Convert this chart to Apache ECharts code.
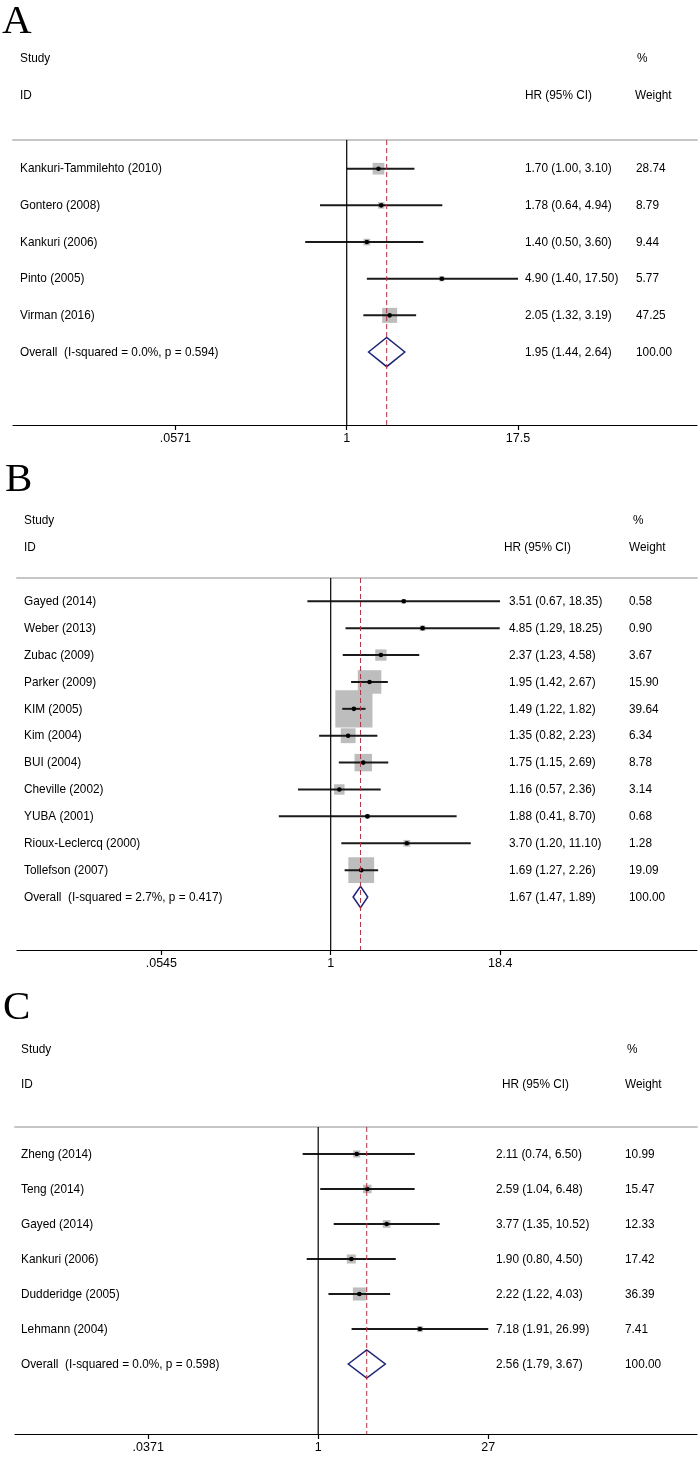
<!DOCTYPE html>
<html>
<head>
<meta charset="utf-8">
<script src="https://cdn.jsdelivr.net/npm/echarts@6/dist/echarts.min.js"></script>
<style>html,body{margin:0;padding:0;background:#fff}#c{width:700px;height:1459px}</style>
</head>
<body>
<div id="c"></div>
<script>
// ---------- Panel A data ----------
const studiesA = ["Kankuri-Tammilehto (2010)", "Gontero (2008)", "Kankuri (2006)", "Pinto (2005)", "Virman (2016)"];
const hrA = [1.70, 1.78, 1.40, 4.90, 2.05];
const loA = [1.00, 0.64, 0.50, 1.40, 1.32];
const hiA = [3.10, 4.94, 3.60, 17.50, 3.19];
const weightA = [28.74, 8.79, 9.44, 5.77, 47.25];
const overallA = [1.95, 1.44, 2.64];
const hetA = ["0.0%", "0.594"];
const tickValsA = [0.0571, 1, 17.5];
const tickLabelsA = [".0571", "1", "17.5"];

// ---------- Panel B data ----------
const studiesB = ["Gayed (2014)", "Weber (2013)", "Zubac (2009)", "Parker (2009)", "KIM (2005)", "Kim (2004)", "BUI (2004)", "Cheville (2002)", "YUBA (2001)", "Rioux-Leclercq (2000)", "Tollefson (2007)"];
const hrB = [3.51, 4.85, 2.37, 1.95, 1.49, 1.35, 1.75, 1.16, 1.88, 3.70, 1.69];
const loB = [0.67, 1.29, 1.23, 1.42, 1.22, 0.82, 1.15, 0.57, 0.41, 1.20, 1.27];
const hiB = [18.35, 18.25, 4.58, 2.67, 1.82, 2.23, 2.69, 2.36, 8.70, 11.10, 2.26];
const weightB = [0.58, 0.90, 3.67, 15.90, 39.64, 6.34, 8.78, 3.14, 0.68, 1.28, 19.09];
const overallB = [1.67, 1.47, 1.89];
const hetB = ["2.7%", "0.417"];
const tickValsB = [0.0545, 1, 18.4];
const tickLabelsB = [".0545", "1", "18.4"];

// ---------- Panel C data ----------
const studiesC = ["Zheng (2014)", "Teng (2014)", "Gayed (2014)", "Kankuri (2006)", "Dudderidge (2005)", "Lehmann (2004)"];
const hrC = [2.11, 2.59, 3.77, 1.90, 2.22, 7.18];
const loC = [0.74, 1.04, 1.35, 0.80, 1.22, 1.91];
const hiC = [6.50, 6.48, 10.52, 4.50, 4.03, 26.99];
const weightC = [10.99, 15.47, 12.33, 17.42, 36.39, 7.41];
const overallC = [2.56, 1.79, 3.67];
const hetC = ["0.0%", "0.598"];
const tickValsC = [0.0371, 1, 27];
const tickLabelsC = [".0371", "1", "27"];

// ---------- layout (positions / styles, not data) ----------
const H = 1459;
const panels = [
  { label: "A", labelX: 2, labelTop: 2,
    studies: studiesA, hr: hrA, lo: loA, hi: hiA, w: weightA, overall: overallA, het: hetA, ticks: tickValsA, tickLabels: tickLabelsA,
    left: 13, right: 3, top: 140, bottom: H - 425, xmin: -5.576, xmax: 5.853, ymin: -0.783, ymax: 6.99,
    nameX: 20, hrX: 525, wX: 636, hdrHrX: 525, pctX: 637, hdrWX: 635, boxK: 2.18 },
  { label: "B", labelX: 5, labelTop: 460,
    studies: studiesB, hr: hrB, lo: loB, hi: hiB, w: weightB, overall: overallB, het: hetB, ticks: tickValsB, tickLabels: tickLabelsB,
    left: 17, right: 3, top: 578, bottom: H - 950, xmin: -5.39, xmax: 6.294, ymin: -0.866, ymax: 12.97,
    nameX: 24, hrX: 509, wX: 629, hdrHrX: 504, pctX: 633, hdrWX: 629, boxK: 5.9 },
  { label: "C", labelX: 3, labelTop: 988,
    studies: studiesC, hr: hrC, lo: loC, hi: hiC, w: weightC, overall: overallC, het: hetC, ticks: tickValsC, tickLabels: tickLabelsC,
    left: 15, right: 3, top: 1127, bottom: H - 1434, xmin: -5.876, xmax: 7.341, ymin: -0.771, ymax: 8.0,
    nameX: 21, hrX: 496, wX: 625, hdrHrX: 502, pctX: 627, hdrWX: 625, boxK: 2.16 }
];

const FONT = '12px "Liberation Sans", Arial, sans-serif';
const TXT = '#000';
const f2 = v => v.toFixed(2);

const grids = [], xAxes = [], yAxes = [], series = [], graphics = [];

panels.forEach((p, pi) => {
  grids.push({ left: p.left, right: p.right, top: p.top, bottom: p.bottom });
  const tickLn = p.ticks.map(v => Math.log(v));
  // bottom axis
  xAxes.push({
    gridIndex: pi, type: 'value', position: 'bottom', min: p.xmin, max: p.xmax,
    axisLine: { show: true, onZero: false, lineStyle: { color: '#000', width: 1.2 } },
    axisTick: { show: true, customValues: tickLn, length: 5, lineStyle: { color: '#000', width: 1.2 } },
    axisLabel: { show: true, customValues: tickLn, margin: 7, color: '#000', fontSize: 12.5, fontFamily: '"Liberation Sans", Arial, sans-serif',
      formatter: v => { let b = 0, d = 1e9; tickLn.forEach((t, k) => { if (Math.abs(t - v) < d) { d = Math.abs(t - v); b = k; } }); return p.tickLabels[b]; } },
    splitLine: { show: false }
  });
  // top grey rule
  xAxes.push({
    gridIndex: pi, type: 'value', position: 'top', min: p.xmin, max: p.xmax,
    axisLine: { show: true, onZero: false, lineStyle: { color: '#c6c6c6', width: 2 } },
    axisTick: { show: false }, axisLabel: { show: false }, splitLine: { show: false }
  });
  yAxes.push({ gridIndex: pi, type: 'value', inverse: true, min: p.ymin, max: p.ymax, show: false });

  const n = p.studies.length;
  const rowsData = p.studies.map((s, i) => [Math.log(p.hr[i]), i]);
  rowsData.push([Math.log(p.overall[0]), n]);

  series.push({
    type: 'custom', xAxisIndex: pi * 2, yAxisIndex: pi, clip: false, z: 2,
    data: rowsData,
    renderItem: (params, api) => {
      const i = params.dataIndex;
      const row = api.value(1);
      const step = api.size([0, 1])[1];
      const yy = api.coord([0, row])[1];
      const children = [];
      const txt = (t, x, y) => ({ type: 'text', x: x, y: y, scaleX: 0.985, scaleY: 1.14,
        style: { text: t, x: 0, y: 0, font: FONT, fill: TXT, textAlign: 'left', textVerticalAlign: 'middle' } });
      if (i === 0) {
        const yS = api.coord([0, -3])[1], yI = api.coord([0, -2])[1];
        children.push(txt('Study', p.nameX, yS), txt('ID', p.nameX, yI), txt('HR (95% CI)', p.hdrHrX, yI), txt('%', p.pctX, yS), txt('Weight', p.hdrWX, yI));
      }
      if (i < n) {
        const c = api.coord([Math.log(p.hr[i]), row]);
        const xl = api.coord([Math.log(p.lo[i]), row])[0];
        const xh = api.coord([Math.log(p.hi[i]), row])[0];
        const side = p.boxK * Math.sqrt(p.w[i]);
        children.push({ type: 'rect', shape: { x: c[0] - side / 2, y: c[1] - side / 2, width: side, height: side }, style: { fill: '#bdbdbd' } });
        children.push({ type: 'line', shape: { x1: xl, y1: yy, x2: xh, y2: yy }, style: { stroke: '#1a1a1a', lineWidth: 2 } });
        children.push({ type: 'circle', shape: { cx: c[0], cy: c[1], r: 2.3 }, style: { fill: '#000' } });
        children.push(txt(p.studies[i], p.nameX, yy));
        children.push(txt(`${f2(p.hr[i])} (${f2(p.lo[i])}, ${f2(p.hi[i])})`, p.hrX, yy));
        children.push(txt(f2(p.w[i]), p.wX, yy));
      } else {
        const o = p.overall;
        const xc = api.coord([Math.log(o[0]), row])[0];
        const xl = api.coord([Math.log(o[1]), row])[0];
        const xh = api.coord([Math.log(o[2]), row])[0];
        const hh = step * 0.4;
        children.push({ type: 'polygon', shape: { points: [[xl, yy], [xc, yy - hh], [xh, yy], [xc, yy + hh]] }, style: { fill: 'none', stroke: '#1c2378', lineWidth: 1.5 } });
        children.push(txt(`Overall  (I-squared = ${p.het[0]}, p = ${p.het[1]})`, p.nameX, yy));
        children.push(txt(`${f2(o[0])} (${f2(o[1])}, ${f2(o[2])})`, p.hrX, yy));
        children.push(txt('100.00', p.wX, yy));
      }
      return { type: 'group', children: children };
    }
  });

  // null line and overall (dashed) line
  series.push({
    type: 'custom', xAxisIndex: pi * 2, yAxisIndex: pi, clip: false, z: 3,
    data: [[0, 0]],
    renderItem: (params, api) => {
      const cs = params.coordSys;
      const x0 = api.coord([0, 0])[0];
      const xo = api.coord([Math.log(p.overall[0]), 0])[0];
      return { type: 'group', children: [
        { type: 'line', shape: { x1: x0, y1: cs.y, x2: x0, y2: cs.y + cs.height }, style: { stroke: '#000', lineWidth: 1.2 } },
        { type: 'line', shape: { x1: xo, y1: cs.y, x2: xo, y2: cs.y + cs.height }, style: { stroke: '#b2323f', lineWidth: 1, lineDash: [5, 3] } }
      ] };
    }
  });

  graphics.push({ type: 'text', left: p.labelX, top: p.labelTop, style: { text: p.label, font: '41px "Liberation Serif", "Times New Roman", serif', fill: '#000' } });
});

const chart = echarts.init(document.getElementById('c'), null, { renderer: 'canvas' });
chart.setOption({ animation: false, grid: grids, xAxis: xAxes, yAxis: yAxes, series: series, graphic: graphics });
</script>
</body>
</html>
